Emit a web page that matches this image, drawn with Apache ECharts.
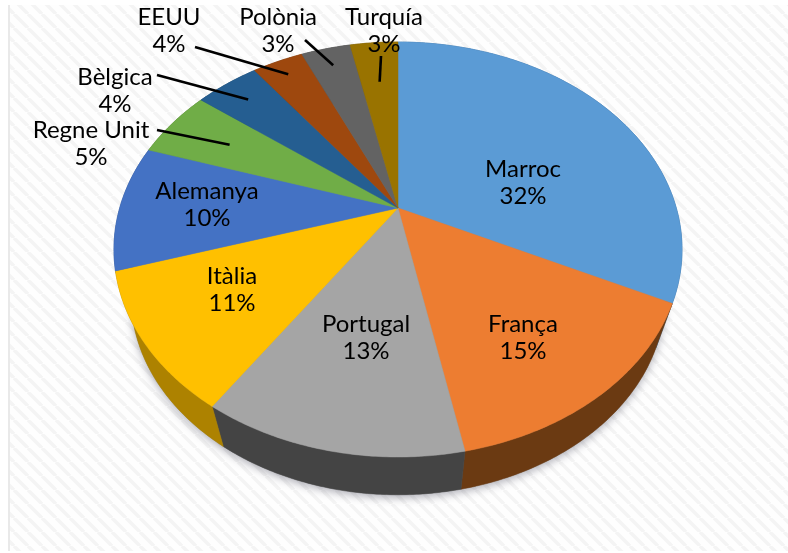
<!DOCTYPE html>
<html>
<head>
<meta charset="utf-8">
<style>html,body{margin:0;padding:0;background:#fff}#c{width:788px;height:553px;filter:blur(0.6px)}</style>
<script src="https://cdn.jsdelivr.net/npm/echarts@6/dist/echarts.min.js"></script>
</head>
<body>
<div id="c"></div>
<script>
const categories = ['Marroc','França','Portugal','Itàlia','Alemanya','Regne Unit','Bèlgica','EEUU','Polònia','Turquía'];
const shares = [32.2,14.7,12.5,10.8,9.8,5.4,4.4,3.5,3.4,3.3];
const percentLabels = ['32%','15%','13%','11%','10%','5%','4%','4%','3%','3%'];

const topColors = ['#5B9BD5','#ED7D31','#A5A5A5','#FFC000','#4472C4','#70AD47','#255E91','#9E480E','#636363','#997300'];
const sideColors = ['#2F6496','#6B3A12','#444444','#AD8200','#2A4A80','#4A7530','#183F60','#6A300A','#434343','#664D00'];

// Layout of labels and leader lines (annotation only, not data)
const labelCentres = [[523,183],[523,338],[366,338],[232,290],[207,205],[91,144],[115,91],[169,31],[278,31],[384,31]];
const leaderStarts = [null,null,null,null,null,[157,130],[157,75],[195,47],[305,40],[381,56]];
const leaderReach = [0,0,0,0,0,0.73,0.86,0.90,0.88,0.73];

// Perspective disc model
const apexX = 398, apexY = 208, widthScale = 278.3, heightScale = 199.2, tilt = 0.2;
const lowerApexY = 257, lowerScaleX = 0.94, lowerScaleY = 0.955;

function project(angle, r, cy, sx, sy){
  const u = r*Math.sin(angle), v = r*Math.cos(angle), d = 1 + tilt*v;
  return [apexX + sx*widthScale*u/d, cy - sy*heightScale*v/d];
}
const total = shares.reduce((a,b)=>a+b,0);
function bounds(i){
  let s = 0;
  for(let k=0;k<i;k++) s += shares[k];
  return [s/total*2*Math.PI, (s+shares[i])/total*2*Math.PI];
}
function arc(a0,a1,cy,sx,sy){
  const pts=[], n=Math.max(2,Math.ceil((a1-a0)/0.01));
  for(let k=0;k<=n;k++) pts.push(project(a0+(a1-a0)*k/n,1,cy,sx,sy));
  return pts;
}
const hatch = document.createElement('canvas');
hatch.width = 14; hatch.height = 14;
(function(){
  const g = hatch.getContext('2d');
  g.fillStyle = '#fefefe'; g.fillRect(0,0,14,14);
  g.strokeStyle = '#f4f4f4'; g.lineWidth = 3.4;
  [-14,0,14].forEach(o=>{g.beginPath();g.moveTo(o,0);g.lineTo(o+14,14);g.stroke();});
})();

function renderSide(params, api){
  const i = api.value(0);
  const [a0,a1] = bounds(i);
  const upper = arc(a0,a1,apexY,1,1), lower = arc(a0,a1,lowerApexY,lowerScaleX,lowerScaleY);
  return {type:'polygon', z2:1, shape:{points:upper.concat(lower.reverse())},
    style:{fill:sideColors[i], stroke:sideColors[i], lineWidth:0.5}};
}
function renderTop(params, api){
  const i = api.value(0);
  const [a0,a1] = bounds(i);
  return {type:'polygon', z2:2, shape:{points:[[apexX,apexY]].concat(arc(a0,a1,apexY,1,1))},
    style:{fill:topColors[i], stroke:topColors[i], lineWidth:0.5}};
}
function renderNote(params, api){
  const i = api.value(0);
  const [a0,a1] = bounds(i);
  const children = [];
  if(leaderStarts[i]){
    const end = project((a0+a1)/2, leaderReach[i], apexY, 1, 1);
    children.push({type:'line', shape:{x1:leaderStarts[i][0],y1:leaderStarts[i][1],x2:end[0],y2:end[1]},
      style:{stroke:'#000',lineWidth:2.6}});
  }
  children.push({type:'text', x:labelCentres[i][0], y:labelCentres[i][1],
    style:{text:categories[i]+'\n'+percentLabels[i], fill:'#000', font:'24px Lato', lineHeight:27,
      align:'center', verticalAlign:'middle'}});
  return {type:'group', children};
}
function renderShadow(params, api){
  return {type:'polygon', shape:{points:arc(0,2*Math.PI,lowerApexY,lowerScaleX,lowerScaleY)},
    style:{fill:'#888', shadowColor:'rgba(60,60,80,0.4)', shadowBlur:9, shadowOffsetX:0, shadowOffsetY:3}};
}
const rows = categories.map((c,i)=>[i,shares[i]]);
const chart = echarts.init(document.getElementById('c'),null,{renderer:'canvas'});
chart.setOption({
  animation:false,
  backgroundColor:'#fff',
  graphic:[{type:'rect', z:-10, shape:{x:8,y:5,width:780,height:546}, style:{fill:{image:hatch,repeat:'repeat'}}},
           {type:'rect', z:-9, shape:{x:8,y:5,width:2,height:546}, style:{fill:'#e9e9e9'}}],
  xAxis:{show:false,min:0,max:1}, yAxis:{show:false,min:0,max:1},
  grid:{left:0,right:0,top:0,bottom:0},
  series:[
    {type:'custom',coordinateSystem:'none',z:1,data:[[0,0]],renderItem:renderShadow,silent:true},
    {type:'custom',coordinateSystem:'none',z:2,data:rows,renderItem:renderSide,silent:true},
    {type:'custom',coordinateSystem:'none',z:3,data:rows,renderItem:renderTop,silent:true},
    {type:'custom',coordinateSystem:'none',z:4,data:rows,renderItem:renderNote,silent:true}
  ]
});
</script>
</body>
</html>
